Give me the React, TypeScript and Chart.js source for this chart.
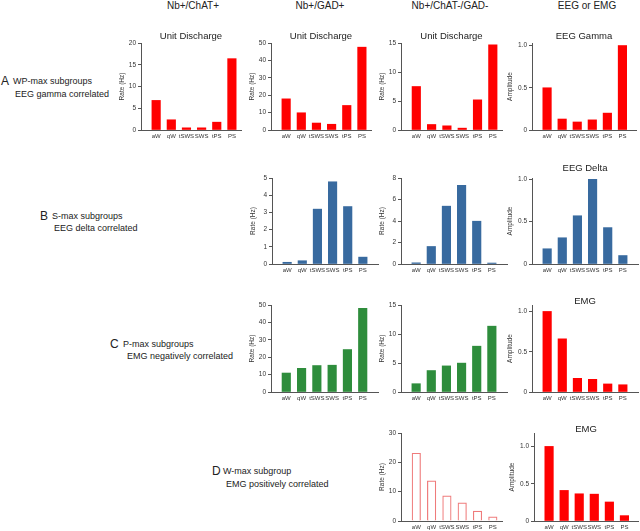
import React, { useEffect, useRef } from 'react';
import { Chart, registerables } from 'chart.js';

Chart.register(...registerables);

const FONT = "'Liberation Sans', Arial, Helvetica, sans-serif";
Chart.defaults.font.family = FONT;

// ---------- data ----------
const STAGES = ['aW', 'qW', 'tSWS', 'SWS', 'tPS', 'PS'];

const A_CHAT = [6.8, 2.35, 0.5, 0.5, 1.8, 16.4];
const A_GAD = [17.9, 9.9, 4.0, 3.3, 14.1, 47.6];
const A_NONE = [7.5, 0.95, 0.72, 0.32, 5.2, 14.7];
const A_GAMMA = [0.5, 0.13, 0.095, 0.12, 0.2, 1.0];

const B_GAD = [0.1, 0.19, 3.19, 4.78, 3.34, 0.4];
const B_NONE = [0.11, 1.63, 5.38, 7.32, 3.98, 0.09];
const B_DELTA = [0.18, 0.31, 0.57, 1.0, 0.43, 0.1];

const C_GAD = [10.9, 13.6, 15.2, 15.4, 24.4, 48.1];
const C_NONE = [1.43, 3.7, 4.5, 4.98, 7.9, 11.35];
const C_EMG = [1.0, 0.66, 0.17, 0.157, 0.1, 0.09];

const D_NONE = [23.1, 13.7, 8.6, 6.2, 3.4, 1.4];
const D_EMG = [1.0, 0.41, 0.365, 0.36, 0.255, 0.072];

const TICKS_20 = [0, 5, 10, 15, 20];
const TICKS_50 = [0, 10, 20, 30, 40, 50];
const TICKS_15 = [0, 5, 10, 15];
const TICKS_5 = [0, 1, 2, 3, 4, 5];
const TICKS_8 = [0, 2, 4, 6, 8];
const TICKS_30 = [0, 10, 20, 30];
const TICKS_AMP = [0, 0.5, 1.0];
const LABELS_AMP = ['0', '0.5', '1.0'];

const HEADERS = ['Nb+/ChAT+', 'Nb+/GAD+', 'Nb+/ChAT-/GAD-', 'EEG or EMG'];
const ROW_LETTERS = ['A', 'B', 'C', 'D'];
const ROW_LINE1 = ['WP-max subgroups', 'S-max subgroups', 'P-max subgroups', 'W-max subgroup'];
const ROW_LINE2 = ['EEG gamma correlated', 'EEG delta correlated', 'EMG negatively correlated', 'EMG positively correlated'];

const RED = '#ff0000';
const BLUE = '#386a9f';
const GREEN = '#2e8d3c';
const PINK = '#ef7b7b';

type PanelSpec = {
  values: number[];
  color: string;
  outline?: boolean;
  L: number;
  R: number;
  T: number;
  B: number;
  xMax: number;
  yMax: number;
  ticks: number[];
  tickLabels: string[];
  yTitle: string;
  title?: string;
  titleY?: number;
  wY: number;
};

const rate = 'Rate (Hz)';
const amp = 'Amplitude';
const str = (a: number[]) => a.map((v) => String(v));

const PANELS: PanelSpec[] = [
  // Row A
  { values: A_CHAT, color: RED, L: 141, R: 241, T: 43, B: 130, xMax: 6.6, yMax: 20, ticks: TICKS_20, tickLabels: str(TICKS_20), yTitle: rate, title: 'Unit Discharge', titleY: 36, wY: 23 },
  { values: A_GAD, color: RED, L: 271, R: 371, T: 43, B: 130, xMax: 6.6, yMax: 50, ticks: TICKS_50, tickLabels: str(TICKS_50), yTitle: rate, title: 'Unit Discharge', titleY: 36, wY: 23 },
  { values: A_NONE, color: RED, L: 401, R: 502, T: 43, B: 130, xMax: 6.6, yMax: 15, ticks: TICKS_15, tickLabels: str(TICKS_15), yTitle: rate, title: 'Unit Discharge', titleY: 36, wY: 23 },
  { values: A_GAMMA, color: RED, L: 532, R: 636, T: 43, B: 130, xMax: 6.9, yMax: 1.03, ticks: TICKS_AMP, tickLabels: LABELS_AMP, yTitle: amp, title: 'EEG Gamma', titleY: 36, wY: 26 },
  // Row B
  { values: B_GAD, color: BLUE, L: 272, R: 378, T: 178, B: 264, xMax: 7, yMax: 5, ticks: TICKS_5, tickLabels: str(TICKS_5), yTitle: rate, wY: 23 },
  { values: B_NONE, color: BLUE, L: 401, R: 507, T: 178, B: 264, xMax: 7, yMax: 8, ticks: TICKS_8, tickLabels: str(TICKS_8), yTitle: rate, wY: 23 },
  { values: B_DELTA, color: BLUE, L: 532, R: 638, T: 178, B: 264, xMax: 7, yMax: 1.016, ticks: TICKS_AMP, tickLabels: LABELS_AMP, yTitle: amp, title: 'EEG Delta', titleY: 168, wY: 26 },
  // Row C
  { values: C_GAD, color: GREEN, L: 271, R: 378, T: 305, B: 392, xMax: 7, yMax: 50, ticks: TICKS_50, tickLabels: str(TICKS_50), yTitle: rate, wY: 23 },
  { values: C_NONE, color: GREEN, L: 401, R: 507, T: 305, B: 392, xMax: 7, yMax: 15, ticks: TICKS_15, tickLabels: str(TICKS_15), yTitle: rate, wY: 23 },
  { values: C_EMG, color: RED, L: 532, R: 638, T: 305, B: 392, xMax: 7, yMax: 1.08, ticks: TICKS_AMP, tickLabels: LABELS_AMP, yTitle: amp, title: 'EMG', titleY: 301, wY: 26 },
  // Row D
  { values: D_NONE, color: PINK, outline: true, L: 401, R: 502, T: 433, B: 521, xMax: 6.6, yMax: 30, ticks: TICKS_30, tickLabels: str(TICKS_30), yTitle: rate, wY: 23 },
  { values: D_EMG, color: RED, L: 534, R: 638, T: 433, B: 521, xMax: 6.9, yMax: 1.18, ticks: TICKS_AMP, tickLabels: LABELS_AMP, yTitle: amp, title: 'EMG', titleY: 429.3, wY: 26 },
];

const TITLE_FS = 9.5;
const TITLE_LH = TITLE_FS * 1.2;
const PAD_R = 2;
const H_X = 12;

function Panel({ spec }: { spec: PanelSpec }) {
  const ref = useRef<HTMLCanvasElement>(null);
  const left = spec.L - spec.wY;
  let top: number;
  let padTop: number;
  let titlePadBottom = 0;
  if (spec.title) {
    const boxTop = (spec.titleY as number) - TITLE_LH / 2;
    top = Math.floor(boxTop);
    padTop = boxTop - top;
    titlePadBottom = spec.T - boxTop - TITLE_LH;
  } else {
    top = spec.T - 6;
    padTop = 6;
  }
  const width = spec.R + PAD_R - left;
  const height = spec.B + H_X - top;

  useEffect(() => {
    if (!ref.current) return;
    const chart = new Chart(ref.current, {
      type: 'bar',
      data: {
        datasets: [
          {
            data: spec.values.map((v, i) => ({ x: i + 1, y: v })),
            backgroundColor: spec.outline ? '#ffffff' : spec.color,
            borderColor: spec.color,
            borderWidth: spec.outline ? 1.2 : 0,
            barThickness: 8.5,
          },
        ],
      },
      options: {
        responsive: false,
        animation: false,
        events: [],
        layout: { padding: { top: padTop, left: 0, right: PAD_R, bottom: 0 } },
        plugins: {
          legend: { display: false },
          tooltip: { enabled: false },
          title: {
            display: !!spec.title,
            text: spec.title || '',
            fullSize: false,
            color: '#222',
            font: { size: TITLE_FS, lineHeight: 1.2, weight: 'normal' },
            padding: { top: 0, bottom: titlePadBottom },
          },
        },
        scales: {
          x: {
            type: 'linear',
            offset: false,
            min: 0,
            max: spec.xMax,
            afterBuildTicks: (ax: any) => {
              ax.ticks = STAGES.map((_, i) => ({ value: i + 1 }));
            },
            afterFit: (s: any) => {
              s.height = H_X;
            },
            ticks: {
              autoSkip: false,
              maxRotation: 0,
              minRotation: 0,
              padding: 3,
              color: '#333',
              font: { size: 6 },
              callback: (v: any) => STAGES[Number(v) - 1] ?? '',
            },
            grid: { display: false, drawTicks: false },
            border: { display: true, color: '#555', width: 1 },
          },
          y: {
            type: 'linear',
            min: 0,
            max: spec.yMax,
            afterBuildTicks: (ax: any) => {
              ax.ticks = spec.ticks.map((v) => ({ value: v }));
            },
            afterFit: (s: any) => {
              s.width = spec.wY;
            },
            ticks: {
              padding: 2,
              color: '#333',
              font: { size: 6.5 },
              callback: (_v: any, i: number) => spec.tickLabels[i],
            },
            grid: { drawOnChartArea: false, drawTicks: true, tickLength: 3, color: '#555' },
            border: { display: true, color: '#555', width: 1 },
            title: {
              display: true,
              text: spec.yTitle,
              color: '#333',
              font: { size: 6.5, lineHeight: 1.2 },
              padding: { top: 0, bottom: 0 },
            },
          },
        },
      } as any,
    });
    return () => chart.destroy();
  }, []);

  return (
    <canvas
      ref={ref}
      width={width}
      height={height}
      style={{ position: 'absolute', left, top, width, height }}
    />
  );
}

const HEADER_X = [193, 320, 450, 587];
const ROW_POS = [
  { lx: 1, l1x: 13, l2x: 15, y1: 81, y2: 94 },
  { lx: 40, l1x: 52, l2x: 54, y1: 216, y2: 228 },
  { lx: 110, l1x: 123, l2x: 127, y1: 344, y2: 356 },
  { lx: 212, l1x: 223, l2x: 226, y1: 471, y2: 484 },
];

export default function App() {
  useEffect(() => {
    document.body.style.margin = '0';
    document.body.style.overflow = 'hidden';
  }, []);
  const textStyle: React.CSSProperties = {
    position: 'absolute',
    whiteSpace: 'nowrap',
    color: '#222',
    transform: 'translateY(-50%)',
    lineHeight: 1,
  };
  return (
    <div
      style={{
        position: 'absolute',
        left: 0,
        top: 0,
        width: 640,
        height: 531,
        overflow: 'hidden',
        background: '#fff',
        fontFamily: FONT,
      }}
    >
      {HEADERS.map((h, i) => (
        <div
          key={h}
          style={{ ...textStyle, left: HEADER_X[i], top: 6, fontSize: 10, transform: 'translate(-50%, -50%)' }}
        >
          {h}
        </div>
      ))}
      {ROW_LETTERS.map((letter, i) => (
        <React.Fragment key={letter}>
          <div style={{ ...textStyle, left: ROW_POS[i].lx, top: ROW_POS[i].y1, fontSize: 12 }}>{letter}</div>
          <div style={{ ...textStyle, left: ROW_POS[i].l1x, top: ROW_POS[i].y1, fontSize: 9 }}>{ROW_LINE1[i]}</div>
          <div style={{ ...textStyle, left: ROW_POS[i].l2x, top: ROW_POS[i].y2, fontSize: 9 }}>{ROW_LINE2[i]}</div>
        </React.Fragment>
      ))}
      {PANELS.map((p, i) => (
        <Panel key={i} spec={p} />
      ))}
    </div>
  );
}
